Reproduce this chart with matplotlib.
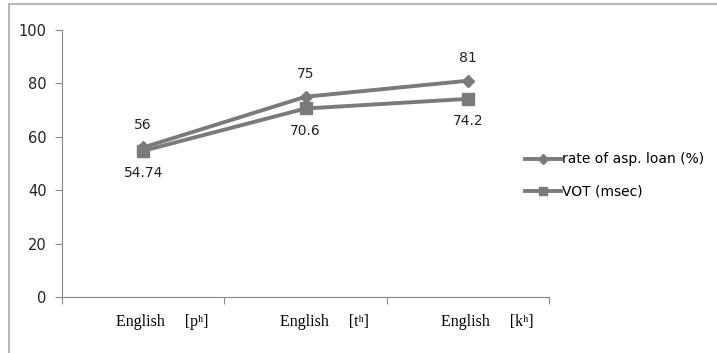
"""Aspiration loan rate vs VOT line chart (Excel-style)."""

import matplotlib

matplotlib.use("Agg")
import matplotlib.pyplot as plt  # noqa: E402
import matplotlib.transforms as mtransforms  # noqa: E402
from matplotlib.lines import Line2D  # noqa: E402

categories = ["English     [p\u02b0]", "English     [t\u02b0]", "English     [k\u02b0]"]
loan_rate = [56, 75, 81]
vot = [54.74, 70.6, 74.2]
series_names = ["rate of asp. loan (%)", "VOT (msec)"]
y_ticks = [0, 20, 40, 60, 80, 100]

W, H = 717, 353
LINE = "#7a7a7a"
SANS = ["DejaVu Sans"]
SERIF = ["Liberation Serif", "DejaVu Serif"]

fig = plt.figure(figsize=(W / 100, H / 100), dpi=100)
ax = fig.add_axes([62 / W, 1 - 297 / H, (549 - 62) / W, (297 - 30) / H])

x = list(range(len(categories)))
ax.plot(x, loan_rate, color=LINE, lw=2.8, marker="D", ms=6.5, label=series_names[0])
ax.plot(x, vot, color=LINE, lw=2.8, marker="s", ms=8.5, label=series_names[1])

for xi, v in zip(x, loan_rate):
    ax.annotate(f"{v:g}", (xi, v), xytext=(0, 11), textcoords="offset points",
                ha="center", va="bottom", fontsize=10, family=SANS, color="#222222")
for xi, v in zip(x, vot):
    ax.annotate(f"{v:g}", (xi, v), xytext=(0, -11), textcoords="offset points",
                ha="center", va="top", fontsize=10, family=SANS, color="#222222")

ax.set_xlim(-0.5, len(categories) - 0.5)
ax.set_ylim(0, 100)
ax.set_yticks(y_ticks)
ax.set_yticklabels([str(t) for t in y_ticks], family=SANS, fontsize=10.5, color="#222222")
ax.set_xticks([i - 0.5 for i in range(len(categories) + 1)], minor=False)
ax.set_xticklabels([])
ax.set_xticks(x, minor=True)
ax.set_xticklabels(categories, minor=True, family=SERIF, fontsize=11.5)
ax.tick_params(axis="x", which="major", direction="out", length=5, color="#888888")
ax.tick_params(axis="x", which="minor", length=0, pad=12)
ax.tick_params(axis="y", direction="out", length=5, color="#888888", pad=6)
# Excel puts these labels a bit right of the category centre
shift = mtransforms.ScaledTranslation(19 / 100, 0, fig.dpi_scale_trans)
for lab in ax.get_xticklabels(minor=True):
    lab.set_transform(lab.get_transform() + shift)
for side in ("top", "right"):
    ax.spines[side].set_visible(False)
for side in ("left", "bottom"):
    ax.spines[side].set_color("#888888")

ax.legend(loc="center left", bbox_to_anchor=(0.925, 0.455), frameon=False,
          prop={"family": SANS, "size": 10}, handlelength=2.6, handletextpad=0.1,
          labelspacing=1.3, markerscale=0.75)

# outer chart border: only top and left edges are inside the crop
bx, by = 8.5 / W, 1 - 3.5 / H
fig.add_artist(Line2D([bx, bx, 1.0], [0.0, by, by], transform=fig.transFigure,
                      color="#aaaaaa", lw=1.2))

fig.savefig("out.png", dpi=100)
